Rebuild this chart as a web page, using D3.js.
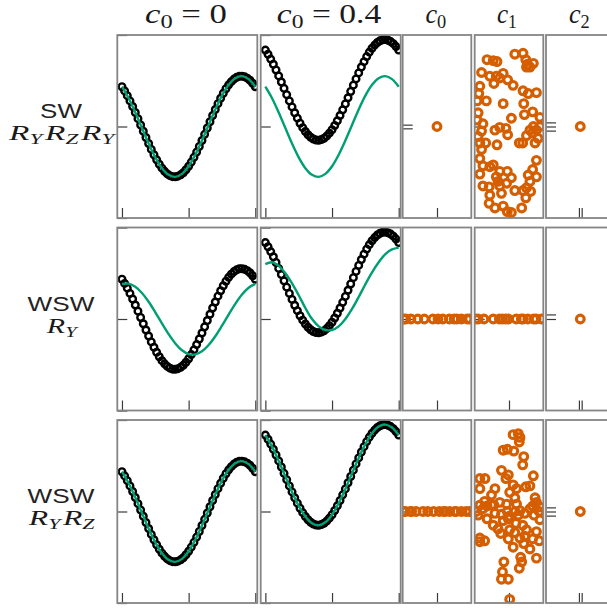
<!DOCTYPE html>
<html>
<head>
<meta charset="utf-8">
<script src="https://cdn.jsdelivr.net/npm/d3@7"></script>
<style>
  body { margin: 0; background: #fff; }
</style>
</head>
<body>
<svg id="chart" width="607" height="608"></svg>
<script>
// ---------- data ----------
// angle grid (units of pi) shared by the measured curves
const theta = [0,0.04,0.08,0.12,0.16,0.2,0.24,0.28,0.32,0.36,0.4,0.44,0.48,0.52,0.56,0.6,0.64,0.68,0.72,0.76,
               0.8,0.84,0.88,0.92,0.96,1,1.04,1.08,1.12,1.16,1.2,1.24,1.28,1.32,1.36,1.4,1.44,1.48,1.52,1.56,
               1.6,1.64,1.68,1.72,1.76,1.8,1.84,1.88,1.92,1.96,2];
// measured expectation values, offset c0 = 0
const target0 = [0.435,0.389,0.337,0.280,0.218,0.153,0.086,0.017,-0.052,-0.120,-0.186,-0.250,-0.309,-0.364,
                 -0.413,-0.455,-0.490,-0.518,-0.537,-0.548,-0.550,-0.543,-0.528,-0.505,-0.473,-0.435,-0.389,
                 -0.337,-0.280,-0.218,-0.153,-0.086,-0.017,0.052,0.120,0.186,0.250,0.309,0.364,0.413,0.455,
                 0.490,0.518,0.537,0.548,0.550,0.543,0.528,0.505,0.473,0.435];
// measured expectation values, offset c0 = 0.4
const target04 = [0.835,0.789,0.737,0.680,0.618,0.553,0.486,0.417,0.348,0.280,0.214,0.150,0.091,0.036,
                  -0.013,-0.055,-0.090,-0.118,-0.137,-0.148,-0.150,-0.143,-0.128,-0.105,-0.073,-0.035,0.011,
                  0.063,0.120,0.182,0.247,0.314,0.383,0.452,0.520,0.586,0.650,0.709,0.764,0.813,0.855,
                  0.890,0.918,0.937,0.948,0.950,0.943,0.928,0.905,0.873,0.835];

// model curves on a coarser grid
const thetaFit = [0,0.1,0.2,0.3,0.4,0.5,0.6,0.7,0.8,0.9,1,1.1,1.2,1.3,1.4,1.5,1.6,1.7,1.8,1.9,2];
const fitSW0    = [0.435,0.309,0.153,-0.017,-0.186,-0.337,-0.455,-0.528,-0.550,-0.518,-0.435,-0.309,-0.153,0.017,0.186,0.337,0.455,0.528,0.550,0.518,0.435];
const fitSW04   = [0.435,0.309,0.153,-0.017,-0.186,-0.337,-0.455,-0.528,-0.550,-0.518,-0.435,-0.309,-0.153,0.017,0.186,0.337,0.455,0.528,0.550,0.518,0.435];
const fitWY0    = [0.383,0.387,0.353,0.284,0.188,0.073,-0.049,-0.166,-0.267,-0.342,-0.383,-0.387,-0.353,-0.284,-0.188,-0.073,0.049,0.166,0.267,0.342,0.383];
const fitWY04   = [0.60,0.62,0.58,0.50,0.39,0.26,0.12,0.00,-0.08,-0.12,-0.12,-0.08,0.00,0.11,0.24,0.38,0.51,0.62,0.71,0.76,0.78];
const fitWYZ0   = [0.435,0.309,0.153,-0.017,-0.186,-0.337,-0.455,-0.528,-0.550,-0.518,-0.435,-0.309,-0.153,0.017,0.186,0.337,0.455,0.528,0.550,0.518,0.435];
const fitWYZ04  = [0.835,0.709,0.553,0.383,0.214,0.063,-0.055,-0.128,-0.150,-0.118,-0.035,0.091,0.247,0.417,0.586,0.737,0.855,0.928,0.950,0.918,0.835];

// fitted parameters (c0, c1, c2) over repeated runs, as [x, y] pairs
const paramsSW_c0 = [[0, 0]];
const paramsSW_c1 = [[-0.64,0.73],[-0.46,0.72],[-0.35,0.71],[0.17,0.79],[0.41,0.80],[0.49,0.73],[0.54,0.68],[0.71,0.69],
  [0.61,0.65],[0.51,0.65],[-0.80,0.59],[-0.56,0.55],[-0.37,0.55],[-0.17,0.58],[-0.04,0.51],[0.12,0.45],[-0.44,0.47],
  [-0.27,0.53],[-0.85,0.44],[-0.88,0.36],[-0.93,0.28],[-0.66,0.28],[-0.17,0.25],[0.41,0.39],[0.56,0.36],[0.80,0.37],
  [0.43,0.25],[0.69,0.16],[0.45,0.13],[0.90,0.10],[-0.90,0.15],[-0.93,0.07],[-0.76,0.03],[-0.80,-0.05],[-0.41,-0.04],
  [-0.27,-0.01],[-0.09,-0.02],[-0.04,-0.09],[0.07,0.09],[-0.35,-0.20],[0.30,-0.18],[0.40,-0.18],[0.51,-0.10],[0.61,-0.04],
  [0.71,0.00],[0.80,-0.04],[0.85,-0.13],[0.76,-0.18],[0.69,-0.07],[0.90,0.00],[-0.90,-0.11],[-0.85,-0.18],[-0.68,-0.18],
  [-0.80,-0.25],[-0.85,-0.35],[-0.76,-0.43],[-0.85,-0.52],[-0.56,-0.44],[-0.46,-0.42],[-0.27,-0.49],[-0.05,-0.49],
  [0.07,-0.56],[-0.37,-0.55],[-0.32,-0.60],[-0.07,-0.62],[0.56,-0.53],[0.80,-0.55],[0.80,-0.37],[0.69,-0.47],[0.61,-0.60],
  [0.51,-0.67],[0.63,-0.71],[0.41,-0.70],[0.17,-0.70],[0.49,-0.78],[0.37,-0.89],[-0.76,-0.65],[-0.58,-0.66],[-0.56,-0.75],
  [-0.58,-0.84],[-0.41,-0.89],[-0.17,-0.87],[-0.05,-0.93],[0.07,-0.94],[-0.22,-0.73],[-0.27,-0.65]];
const paramsSW_c2 = [[0, 0]];

const paramsWY_c0 = [-0.97,-0.91,-0.76,-0.56,-0.37,-0.12,0.03,0.17,0.36,0.5,0.58,0.71,0.88,0.95].map(v => [v, 0]);
const paramsWY_c1 = [-0.97,-0.9,-0.73,-0.46,-0.28,-0.19,-0.1,-0.02,0.21,0.36,0.41,0.55,0.72,0.79,0.95].map(v => [v, 0]);
const paramsWY_c2 = [[0, 0]];

const paramsWYZ_c0 = [-0.97,-0.92,-0.78,-0.74,-0.61,-0.41,-0.27,-0.10,0.07,0.2,0.24,0.37,0.52,0.56,0.71,0.85,0.95]
  .map(v => [v, 0]);
const paramsWYZ_c1 = [[0.12,0.84],[0.27,0.85],[0.32,0.81],[0.30,0.76],[-0.17,0.67],[-0.05,0.68],[0.14,0.66],[0.43,0.60],
  [0.40,0.51],[-0.22,0.45],[-0.02,0.40],[-0.09,0.36],[0.71,0.39],[-0.85,0.36],[-0.70,0.36],[-0.85,0.25],[-0.41,0.25],
  [0.12,0.29],[0.22,0.25],[0.49,0.27],[0.61,0.28],[-0.51,0.18],[-0.71,0.11],[0.02,0.21],[0.17,0.15],[0.76,0.15],
  [0.80,0.10],[0.69,0.06],[0.90,0.05],[-0.85,0.07],[-0.95,0.00],[-0.76,0.03],[-0.64,0.06],[-0.44,0.07],[-0.90,-0.04],
  [-0.64,-0.08],[-0.41,-0.02],[-0.22,-0.03],[-0.05,0.00],[0.02,-0.05],[0.17,0.00],[0.32,0.01],[0.46,-0.02],[0.61,0.03],
  [0.73,-0.04],[0.88,0.00],[0.90,-0.09],[-0.17,-0.10],[-0.02,-0.08],[-0.46,-0.15],[-0.32,-0.19],[-0.24,-0.24],[0.02,-0.20],
  [0.20,-0.13],[0.40,-0.15],[0.51,-0.20],[0.17,-0.23],[0.32,-0.29],[0.46,-0.27],[0.80,-0.22],[0.88,-0.32],[0.69,-0.30],
  [-0.85,-0.29],[-0.71,-0.32],[-0.85,-0.33],[-0.02,-0.30],[0.12,-0.39],[0.43,-0.35],[0.61,-0.41],[0.80,-0.51],[0.34,-0.50],
  [0.30,-0.62],[0.37,-0.55],[-0.15,-0.55],[-0.19,-0.66],[-0.22,-0.74],[-0.02,-0.74],[0.02,-0.96],[-0.51,0.07],[-0.27,0.10],
  [-0.07,0.08],[0.22,0.08],[0.27,-0.04]];
const paramsWYZ_c2 = [[0, 0]];

// labels and ticks
const curveHeaders = [["c", "0", " = 0"], ["c", "0", " = 0.4"]];
const paramHeaders = [["c", "0", ""], ["c", "1", ""], ["c", "2", ""]];
const rowNames = ["SW", "WSW", "WSW"];
const rowGates = [[["R","Y"],["R","Z"],["R","Y"]], [["R","Y"]], [["R","Y"],["R","Z"]]];
const curveXTicks = [0, 1, 2];
const curveYTicks = [-1, 0, 1];
const paramXTicks = [[0], [0], [-0.04, 0.04]];
const paramYTicks = [
  [[-0.02, 0.02], [0], [-0.045, 0, 0.045]],
  [[0], [0], [0, 0.05]],
  [[0], [0], [-0.045, 0, 0.045]]
];

const rows = [
  { target: [target0, target04], fit: [fitSW0, fitSW04],   params: [paramsSW_c0, paramsSW_c1, paramsSW_c2] },
  { target: [target0, target04], fit: [fitWY0, fitWY04],   params: [paramsWY_c0, paramsWY_c1, paramsWY_c2] },
  { target: [target0, target04], fit: [fitWYZ0, fitWYZ04], params: [paramsWYZ_c0, paramsWYZ_c1, paramsWYZ_c2] }
];

// ---------- layout ----------
const colX = [117.3, 260.7, 402.7, 474.7, 546];
const colW = [140, 140, 68.6, 68.6, 68.6];
const rowY = [35, 227.5, 420];
const panelH = 183;

const BLACK = "#000", GREEN = "#009E73", ORANGE = "#D55E00";
const svg = d3.select("#chart");
const serif = "'Liberation Serif', 'DejaVu Serif', serif";
const sans = "'Liberation Sans', Arial, sans-serif";

const xCurve = d3.scaleLinear().domain([-0.07, 2.03]).range([0, colW[0]]);
const yPanel = d3.scaleLinear().domain([-1, 1]).range([panelH, 0]);
const xParam = d3.scaleLinear().domain([-1, 1]).range([0, colW[2]]);

// centred label stretched horizontally to a given width
function placeLabel(t, cx, baseline, width) {
  const w = t.node().getBBox().width;
  t.attr("transform", `translate(${cx},${baseline}) scale(${width / w},1)`);
}

function mathText(parts, size, subSize, subDy) {
  // parts: list of [italic base, subscript, trailing roman text]
  const t = svg.append("text").attr("font-family", serif).attr("font-size", size)
    .attr("text-anchor", "middle").attr("fill", "#1a1a1a");
  parts.forEach(([b, s, tail]) => {
    t.append("tspan").attr("font-style", "italic").text(b);
    t.append("tspan").attr("font-size", subSize).attr("font-style", /\d/.test(s) ? "normal" : "italic")
      .attr("dy", subDy).text(s);
    t.append("tspan").attr("dy", -subDy).text(tail ? tail : "\u200a");
  });
  return t;
}

// column headers
const headerW = [82, 105, 23, 22, 23];
const headerX = [186, 329, 437, 508, 580.5];
curveHeaders.forEach((h, i) => placeLabel(mathText([h], 27, 19, 5), headerX[i], 23.3, headerW[i]));
paramHeaders.forEach((h, i) => placeLabel(mathText([h], 27, 19, 5), headerX[i + 2], 23.3, headerW[i + 2]));

// row labels
const nameW = [42, 67, 67];
const gateW = [110, 34, 70];
rowNames.forEach((name, r) => {
  const cy = rowY[r] + panelH / 2;
  const t = svg.append("text").attr("text-anchor", "middle").attr("font-family", sans)
    .attr("font-size", 20).attr("fill", "#222").text(name);
  placeLabel(t, 61, cy - 8.5, nameW[r]);
  const m = mathText(rowGates[r], 21, 14.5, 4);
  placeLabel(m, 63, cy + 13.5, gateW[r]);
});

// ---------- panels ----------
let clipId = 0;
function panel(r, c) {
  const g = svg.append("g").attr("transform", `translate(${colX[c]},${rowY[r]})`);
  const id = "clip" + (clipId++);
  g.append("clipPath").attr("id", id).append("rect")
    .attr("width", colW[c]).attr("height", panelH);
  return { g, clip: `url(#${id})` };
}

function drawTicks(g, xs, ys, ticksX, ticksY) {
  const ax = g.append("g").attr("transform", `translate(0,${panelH})`)
    .call(d3.axisBottom(xs).tickValues(ticksX).tickSize(-10).tickFormat(""));
  const ay = g.append("g").call(d3.axisLeft(ys).tickValues(ticksY).tickSize(-10).tickFormat(""));
  [ax, ay].forEach(a => {
    a.select(".domain").remove();
    a.selectAll(".tick line").attr("stroke", "#3a3a3a").attr("stroke-width", 1.2);
  });
}

function drawBorder(g, w) {
  g.append("rect").attr("width", w).attr("height", panelH)
    .attr("fill", "none").attr("stroke", "#858585").attr("stroke-width", 1.8);
}

const fitLine = d3.line().x((d, i) => xCurve(thetaFit[i])).y(d => yPanel(d)).curve(d3.curveCatmullRom);

rows.forEach((row, r) => {
  // measured vs. model curves
  [0, 1].forEach(c => {
    const { g, clip } = panel(r, c);
    drawTicks(g, xCurve, yPanel, curveXTicks, curveYTicks);
    const plot = g.append("g").attr("clip-path", clip);
    plot.selectAll("circle").data(row.target[c]).join("circle")
      .attr("cx", (d, i) => xCurve(theta[i])).attr("cy", d => yPanel(d)).attr("r", 3.3)
      .attr("fill", "none").attr("stroke", BLACK).attr("stroke-width", 2.4);
    plot.append("path").datum(row.fit[c]).attr("d", fitLine)
      .attr("fill", "none").attr("stroke", GREEN).attr("stroke-width", 2.4);
    drawBorder(g, colW[c]);
  });
  // fitted parameters
  [0, 1, 2].forEach(k => {
    const c = k + 2;
    const { g, clip } = panel(r, c);
    drawTicks(g, xParam, yPanel, paramXTicks[k], paramYTicks[r][k]);
    const plot = g.append("g").attr("clip-path", clip);
    plot.selectAll("circle").data(row.params[k]).join("circle")
      .attr("cx", d => xParam(d[0])).attr("cy", d => yPanel(d[1])).attr("r", 3.9)
      .attr("fill", "none").attr("stroke", ORANGE).attr("stroke-width", 3.1);
    drawBorder(g, colW[c]);
  });
});
</script>
</body>
</html>
